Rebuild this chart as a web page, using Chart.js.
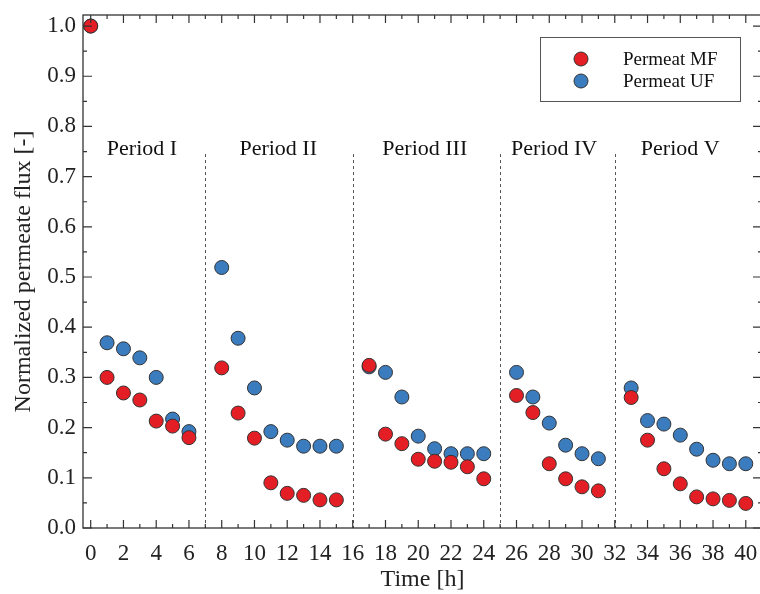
<!DOCTYPE html>
<html>
<head>
<meta charset="utf-8">
<script src="https://cdn.jsdelivr.net/npm/chart.js@4.4.0/dist/chart.umd.min.js"></script>
<style>
  html, body { margin: 0; padding: 0; background: #fff; overflow: hidden; }
  canvas { display: block; }
</style>
</head>
<body>
<!-- a little wider than the window: the right frame sits just outside, as in the original -->
<canvas id="fluxChart" width="770" height="594"></canvas>
<script>
// sampling times [h] (same for both permeates)
const hours = [0, 1, 2, 3, 4, 5, 6,
  8, 9, 10, 11, 12, 13, 14, 15,
  17, 18, 19, 20, 21, 22, 23, 24,
  26, 27, 28, 29, 30, 31,
  33, 34, 35, 36, 37, 38, 39, 40];

const fluxMF = [1.0, 0.300, 0.269, 0.255, 0.213, 0.203, 0.180,
  0.319, 0.229, 0.179, 0.090, 0.069, 0.065, 0.056, 0.056,
  0.324, 0.187, 0.168, 0.137, 0.133, 0.131, 0.122, 0.098,
  0.264, 0.230, 0.128, 0.098, 0.082, 0.074,
  0.260, 0.175, 0.118, 0.088, 0.062, 0.058, 0.055, 0.049];

const fluxUF = [1.0, 0.369, 0.357, 0.339, 0.300, 0.217, 0.192,
  0.519, 0.378, 0.279, 0.192, 0.175, 0.163, 0.163, 0.163,
  0.321, 0.310, 0.261, 0.183, 0.158, 0.148, 0.148, 0.148,
  0.310, 0.261, 0.209, 0.165, 0.148, 0.138,
  0.279, 0.214, 0.207, 0.185, 0.157, 0.135, 0.128, 0.128];

const xTicks = [0, 2, 4, 6, 8, 10, 12, 14, 16, 18, 20, 22, 24, 26, 28, 30, 32, 34, 36, 38, 40];
const yTicks = [0.0, 0.1, 0.2, 0.3, 0.4, 0.5, 0.6, 0.7, 0.8, 0.9, 1.0];

const periodNames = ['Period I', 'Period II', 'Period III', 'Period IV', 'Period V'];
const periodCenters = [3.13, 11.45, 20.4, 28.3, 36.0];
const periodBreaks = [7, 16, 25, 32];

const FONT = '"Liberation Serif", "Times New Roman", serif';
const INK = '#222';
const RED = '#e31e24';
const BLUE = '#3b7cbf';

const toPoints = (xs, ys) => xs.map((h, i) => ({ x: h, y: ys[i] }));

// dashed period dividers, period names, box frame with inward ticks, boxed legend
const decorations = {
  id: 'decorations',
  beforeDatasetsDraw(chart) {
    const { ctx, chartArea, scales: { x, y } } = chart;
    ctx.save();
    ctx.strokeStyle = '#555';
    ctx.lineWidth = 1;
    ctx.setLineDash([3, 3]);
    periodBreaks.forEach(b => {
      const px = Math.round(x.getPixelForValue(b)) + 0.5;
      ctx.beginPath();
      ctx.moveTo(px, y.getPixelForValue(0.745));
      ctx.lineTo(px, chartArea.bottom);
      ctx.stroke();
    });
    ctx.setLineDash([]);
    ctx.fillStyle = '#111';
    ctx.font = '22px ' + FONT;
    ctx.textAlign = 'center';
    ctx.textBaseline = 'alphabetic';
    periodNames.forEach((name, i) => {
      ctx.fillText(name, x.getPixelForValue(periodCenters[i]), y.getPixelForValue(0.743));
    });
    ctx.restore();
  },
  afterDatasetsDraw(chart) {
    const { ctx, chartArea: a, scales: { x, y } } = chart;
    ctx.save();
    ctx.strokeStyle = '#333';
    ctx.lineWidth = 1.3;
    ctx.strokeRect(a.left, a.top, a.right - a.left, a.bottom - a.top);

    ctx.lineWidth = 1.2;
    ctx.beginPath();
    for (let h = 0; h <= 40; h++) {
      const px = x.getPixelForValue(h);
      const len = h % 2 === 0 ? 8 : 4;
      ctx.moveTo(px, a.bottom); ctx.lineTo(px, a.bottom - len);
      ctx.moveTo(px, a.top); ctx.lineTo(px, a.top + len);
    }
    for (let i = 0; i <= 20; i++) {
      const py = y.getPixelForValue(i * 0.05);
      const len = i % 2 === 0 ? 9 : 4;
      ctx.moveTo(a.left, py); ctx.lineTo(a.left + len, py);
      ctx.moveTo(a.right, py); ctx.lineTo(a.right - len, py);
    }
    ctx.stroke();

    // legend
    ctx.strokeStyle = '#555';
    ctx.lineWidth = 1;
    ctx.strokeRect(540.5, 37.5, 200, 64);
    ctx.font = '19px ' + FONT;
    ctx.textAlign = 'left';
    ctx.textBaseline = 'middle';
    chart.data.datasets.forEach((ds, i) => {
      const cy = 59 + i * 22;
      ctx.beginPath();
      ctx.arc(581, cy, 7, 0, Math.PI * 2);
      ctx.fillStyle = ds.backgroundColor;
      ctx.fill();
      ctx.strokeStyle = '#333';
      ctx.stroke();
      ctx.fillStyle = '#111';
      ctx.fillText(ds.label, 623, cy + 1);
    });
    ctx.restore();
  }
};

const fluxChart = new Chart(document.getElementById('fluxChart'), {
  type: 'scatter',
  data: {
    datasets: [{
      label: 'Permeat MF',
      data: toPoints(hours, fluxMF),
      backgroundColor: RED,
      borderColor: '#333',
      borderWidth: 1,
      pointRadius: 7
    }, {
      label: 'Permeat UF',
      data: toPoints(hours, fluxUF),
      backgroundColor: BLUE,
      borderColor: '#333',
      borderWidth: 1,
      pointRadius: 7
    }]
  },
  options: {
    responsive: false,
    animation: false,
    events: [],
    layout: { padding: { left: 0, top: 15, right: 0, bottom: 0 } },
    plugins: {
      legend: { display: false },
      tooltip: { enabled: false }
    },
    scales: {
      x: {
        type: 'linear',
        min: -0.47,
        max: 40.99,
        afterBuildTicks: s => { s.ticks = xTicks.map(v => ({ value: v })); },
        afterFit: s => { s.height = 66; s.paddingLeft = 0; s.paddingRight = 0; },
        grid: { display: false, drawTicks: false },
        border: { display: false },
        ticks: { color: INK, font: { family: FONT, size: 23 }, padding: 12, maxRotation: 0, autoSkip: false },
        title: { display: true, text: 'Time [h]', color: INK, font: { family: FONT, size: 24 }, padding: { top: 0, bottom: 0 } }
      },
      y: {
        min: 0,
        max: 1.022,
        afterBuildTicks: s => { s.ticks = yTicks.map(v => ({ value: v })); },
        afterFit: s => { s.width = 83; s.paddingTop = 0; s.paddingBottom = 0; },
        grid: { display: false, drawTicks: false },
        border: { display: false },
        ticks: { color: INK, font: { family: FONT, size: 23 }, padding: 7, callback: v => v.toFixed(1) },
        title: { display: true, text: 'Normalized permeate flux [-]', color: INK, font: { family: FONT, size: 24 }, padding: { top: 9, bottom: 0 } }
      }
    }
  },
  plugins: [decorations]
});
</script>
</body>
</html>
